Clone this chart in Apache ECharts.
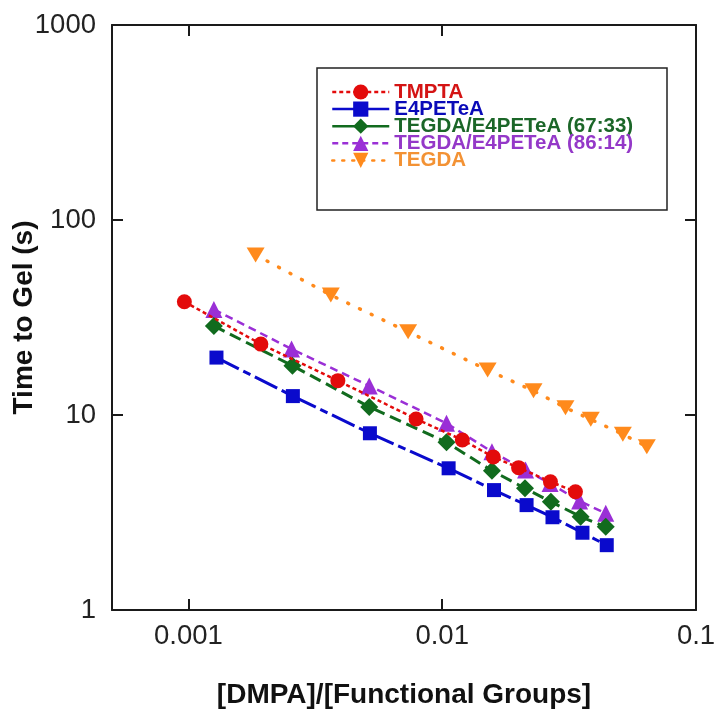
<!DOCTYPE html>
<html><head><meta charset="utf-8">
<script src="https://cdn.jsdelivr.net/npm/echarts@6/dist/echarts.min.js"></script>
<style>html,body{margin:0;padding:0;background:#fff}#c{width:714px;height:710px}</style>
</head><body><div id="c"></div>
<script>
// ---- data ----
const seriesNames = ['TMPTA', 'E4PETeA', 'TEGDA/E4PETeA (67:33)', 'TEGDA/E4PETeA (86:14)', 'TEGDA'];

const tmptaX = [0.000964, 0.00193, 0.00388, 0.00789, 0.0120, 0.0159, 0.0200, 0.0267, 0.0335];
const tmptaY = [38.1, 23.1, 15.0, 9.54, 7.45, 6.09, 5.37, 4.55, 4.04];

const e4peteaX = [0.00129, 0.00258, 0.00519, 0.0106, 0.0160, 0.0215, 0.0272, 0.0357, 0.0445];
const e4peteaY = [19.7, 12.5, 8.06, 5.33, 4.12, 3.45, 2.99, 2.49, 2.15];

const mix6733X = [0.00126, 0.00257, 0.00516, 0.0104, 0.0157, 0.0212, 0.0268, 0.0351, 0.0441];
const mix6733Y = [28.6, 17.9, 11.0, 7.24, 5.18, 4.21, 3.59, 3.01, 2.67];

const mix8614X = [0.00126, 0.00255, 0.00516, 0.0104, 0.0157, 0.0213, 0.0266, 0.0348, 0.0441];
const mix8614Y = [34.8, 21.8, 14.1, 9.07, 6.48, 5.22, 4.46, 3.62, 3.13];

const tegdaX = [0.00184, 0.00364, 0.00734, 0.0151, 0.0229, 0.0306, 0.0385, 0.0515, 0.0640];
const tegdaY = [66.2, 41.2, 26.7, 17.0, 13.3, 10.9, 9.5, 7.96, 6.88];

const xTickValues = [0.001, 0.01, 0.1];
const xTickLabels = ['0.001', '0.01', '0.1'];
const yTickValues = [1, 10, 100, 1000];
const yTickLabels = ['1', '10', '100', '1000'];
const xTitle = '[DMPA]/[Functional Groups]';
const yTitle = 'Time to Gel (s)';

// ---- chart ----
const pair = (xs, ys) => xs.map((x, i) => [x, ys[i]]);
const FONT = '"Liberation Sans", Arial, sans-serif';
const styles = [
  {color: '#E30B0B', text: '#D41414', symbol: 'circle', size: 15, dash: [4, 3], width: 2.5, legendDash: [4, 3]},
  {color: '#0A0ACC', text: '#0A0AB8', symbol: 'rect', size: 14, dash: [25, 5, 8, 5], width: 3, legendDash: 'solid'},
  {color: '#116B1E', text: '#1B6628', symbol: 'diamond', size: 18, dash: [12, 6], width: 3, legendDash: 'solid'},
  {color: '#9A2FD6', text: '#9438C8', symbol: 'triangle', size: 17, dash: [8, 5], width: 2.5, legendDash: [6, 4]},
  {color: '#FF8A1C', text: '#F39234', symbol: 'triangle', size: [18, 15], rotate: 180, dash: [1, 12], width: 3.5, legendDash: [2, 8]}
];
const datasets = [pair(tmptaX, tmptaY), pair(e4peteaX, e4peteaY), pair(mix6733X, mix6733Y), pair(mix8614X, mix8614Y), pair(tegdaX, tegdaY)];

const xLabelFmt = v => { const i = xTickValues.findIndex(t => Math.abs(Math.log10(t) - Math.log10(v)) < 1e-6); return i >= 0 ? xTickLabels[i] : ''; };
const yLabelFmt = v => { const i = yTickValues.findIndex(t => Math.abs(Math.log10(t) - Math.log10(v)) < 1e-6); return i >= 0 ? yTickLabels[i] : ''; };

const axisLine = {show: true, onZero: false, lineStyle: {color: '#1a1a1a', width: 2}};
const tickStyle = {show: true, inside: true, length: 11, lineStyle: {color: '#1a1a1a', width: 2}};

const legendRowTop = 92, legendRowStep = 17.1, legendFont = 20.5;
const legends = seriesNames.map((n, i) => ({
  orient: 'vertical', left: 331, top: legendRowTop + legendRowStep * i - 10.5, padding: 0,
  itemWidth: 57, itemHeight: 19, selectedMode: false,
  lineStyle: {type: styles[i].legendDash, width: 2.5},
  textStyle: {fontFamily: FONT, fontWeight: 'bold', fontSize: legendFont, color: styles[i].text},
  data: [n]
}));

const chart = echarts.init(document.getElementById('c'));
chart.setOption({
  animation: false,
  backgroundColor: '#fff',
  grid: {left: 112, right: 18, top: 25, bottom: 100, containLabel: false, outerBoundsMode: 'none'},
  graphic: [{type: 'rect', shape: {x: 317, y: 68, width: 350, height: 142}, style: {fill: 'none', stroke: '#222', lineWidth: 1.5}, z: 1}],
  legend: legends,
  xAxis: [
    {type: 'log', logBase: 10, min: 0.0005, max: 0.1, position: 'bottom',
     axisLine, axisTick: Object.assign({customValues: [0.001, 0.01]}, tickStyle),
     splitLine: {show: false}, minorTick: {show: false},
     axisLabel: {customValues: xTickValues, formatter: xLabelFmt, fontFamily: FONT, fontSize: 27.5, color: '#222', margin: 12},
     name: xTitle, nameLocation: 'middle', nameGap: 71,
     nameTextStyle: {fontFamily: FONT, fontWeight: 'bold', fontSize: 28, color: '#111'}},
    {type: 'log', logBase: 10, min: 0.0005, max: 0.1, position: 'top',
     axisLine, axisTick: Object.assign({customValues: [0.001, 0.01]}, tickStyle),
     splitLine: {show: false}, axisLabel: {show: false}}
  ],
  yAxis: [
    {type: 'log', logBase: 10, min: 1, max: 1000, position: 'left',
     axisLine, axisTick: Object.assign({customValues: [10, 100]}, tickStyle),
     splitLine: {show: false}, minorTick: {show: false},
     axisLabel: {customValues: yTickValues, formatter: yLabelFmt, fontFamily: FONT, fontSize: 27.5, color: '#222', margin: 16},
     name: yTitle, nameLocation: 'middle', nameGap: 74, nameRotate: 90, nameMoveOverlap: false,
     nameTextStyle: {fontFamily: FONT, fontWeight: 'bold', fontSize: 28, color: '#111'}},
    {type: 'log', logBase: 10, min: 1, max: 1000, position: 'right',
     axisLine, axisTick: Object.assign({customValues: [10, 100]}, tickStyle),
     splitLine: {show: false}, axisLabel: {show: false}}
  ],
  series: seriesNames.map((n, i) => ({
    name: n, type: 'line', xAxisIndex: 0, yAxisIndex: 0,
    data: datasets[i],
    symbol: styles[i].symbol, symbolSize: styles[i].size, symbolRotate: styles[i].rotate || 0,
    showSymbol: true,
    itemStyle: {color: styles[i].color},
    lineStyle: {color: styles[i].color, width: styles[i].width, type: styles[i].dash, cap: i === 4 ? 'round' : 'butt'},
    z: 10 - i
  }))
});
</script>
</body></html>
